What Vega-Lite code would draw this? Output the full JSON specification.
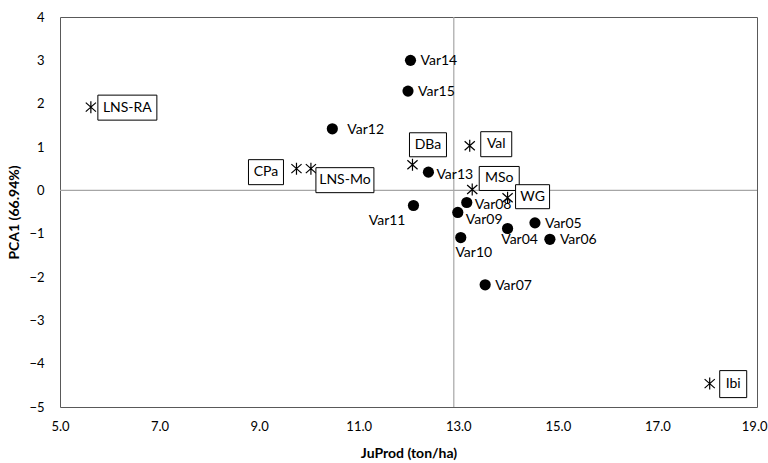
{
  "$schema": "https://vega.github.io/schema/vega-lite/v6.json",
  "autosize": "none",
  "width": 697,
  "height": 390,
  "padding": {"left": 60, "top": 17, "right": 11, "bottom": 56},
  "background": "white",
  "config": {
    "view": {"stroke": "#595959", "strokeWidth": 1},
    "font": "Lato",
    "axis": {"grid": false, "ticks": false, "domain": false, "labelFlush": false, "labelOverlap": false, "labelFont": "Lato", "labelFontSize": 13, "labelColor": "#000", "titleFont": "Lato", "titleFontSize": 14, "titleFontWeight": "bold", "titleColor": "#000"}
  },
  "datasets": {
    "pts": [
      {"name": "Var04", "type": "Variety", "x": 13.99, "y": -0.88},
      {"name": "Var05", "type": "Variety", "x": 14.54, "y": -0.75},
      {"name": "Var06", "type": "Variety", "x": 14.84, "y": -1.13},
      {"name": "Var07", "type": "Variety", "x": 13.54, "y": -2.18},
      {"name": "Var08", "type": "Variety", "x": 13.17, "y": -0.28},
      {"name": "Var09", "type": "Variety", "x": 12.99, "y": -0.51},
      {"name": "Var10", "type": "Variety", "x": 13.05, "y": -1.09},
      {"name": "Var11", "type": "Variety", "x": 12.1, "y": -0.35},
      {"name": "Var12", "type": "Variety", "x": 10.47, "y": 1.42},
      {"name": "Var13", "type": "Variety", "x": 12.4, "y": 0.42},
      {"name": "Var14", "type": "Variety", "x": 12.04, "y": 3.0},
      {"name": "Var15", "type": "Variety", "x": 11.99, "y": 2.29},
      {"name": "LNS-RA", "type": "Location", "x": 5.62, "y": 1.92},
      {"name": "CPa", "type": "Location", "x": 9.75, "y": 0.5},
      {"name": "LNS-Mo", "type": "Location", "x": 10.04, "y": 0.5},
      {"name": "DBa", "type": "Location", "x": 12.08, "y": 0.59},
      {"name": "Val", "type": "Location", "x": 13.23, "y": 1.03},
      {"name": "MSo", "type": "Location", "x": 13.28, "y": 0.02},
      {"name": "WG", "type": "Location", "x": 13.99, "y": -0.17},
      {"name": "Ibi", "type": "Location", "x": 18.05, "y": -4.46}
    ],
    "refx": [{"v": 12.91}],
    "refy": [{"v": 0}]
  },
  "encoding": {
    "x": {"field": "x", "type": "quantitative", "scale": {"domain": [5, 19], "nice": false, "zero": false}, "axis": {"values": [5, 7, 9, 11, 13, 15, 17, 19], "format": ".1f", "title": "JuProd (ton/ha)", "labelPadding": 13, "titlePadding": 13, "labelAlign": {"condition": {"test": "datum.value === 19", "value": "right"}, "value": "center"}, "labelOffset": {"condition": {"test": "datum.value === 19", "value": 10}, "value": 0}}},
    "y": {"field": "y", "type": "quantitative", "scale": {"domain": [-5, 4], "nice": false, "zero": false}, "axis": {"values": [-5, -4, -3, -2, -1, 0, 1, 2, 3, 4], "format": "d", "title": "PCA1 (66.94%)", "labelPadding": 16, "titlePadding": 7}}
  },
  "layer": [
    {"data": {"name": "refx"}, "mark": {"type": "rule", "color": "#a6a6a6", "strokeWidth": 1.2}, "encoding": {"x": {"field": "v", "type": "quantitative"}, "y": null}},
    {"data": {"name": "refy"}, "mark": {"type": "rule", "color": "#a6a6a6", "strokeWidth": 1.2}, "encoding": {"y": {"field": "v", "type": "quantitative"}, "x": null}},
    {"data": {"name": "pts"}, "transform": [{"filter": "datum.type === 'Variety'"}], "mark": {"type": "point", "shape": "circle", "filled": true, "color": "#000", "size": 125, "opacity": 1}},
    {"data": {"name": "pts"}, "transform": [{"filter": "datum.type === 'Location'"}], "mark": {"type": "point", "shape": "M0,-1L0,1M-0.85,-0.75L0.85,0.75M-0.85,0.75L0.85,-0.75", "filled": false, "stroke": "#000", "strokeWidth": 1.2, "size": 144, "opacity": 1}},
    {"data": {"name": "pts"}, "transform": [{"filter": "datum.name === 'Var14' || datum.name === 'Var15' || datum.name === 'Var05' || datum.name === 'Var06' || datum.name === 'Var07'"}], "mark": {"type": "text", "align": "left", "baseline": "middle", "dx": 10, "dy": 1, "fontSize": 14, "font": "Lato", "color": "#000"}, "encoding": {"text": {"field": "name"}}},
    {"data": {"name": "pts"}, "transform": [{"filter": "datum.name === 'Var12'"}], "mark": {"type": "text", "align": "left", "baseline": "middle", "dx": 15, "dy": 1, "fontSize": 14, "font": "Lato", "color": "#000"}, "encoding": {"text": {"field": "name"}}},
    {"data": {"name": "pts"}, "transform": [{"filter": "datum.name === 'Var13' || datum.name === 'Var08'"}], "mark": {"type": "text", "align": "left", "baseline": "middle", "dx": 8, "dy": 3, "fontSize": 14, "font": "Lato", "color": "#000"}, "encoding": {"text": {"field": "name"}}},
    {"data": {"name": "pts"}, "transform": [{"filter": "datum.name === 'Var09'"}], "mark": {"type": "text", "align": "left", "baseline": "middle", "dx": 8, "dy": 8, "fontSize": 14, "font": "Lato", "color": "#000"}, "encoding": {"text": {"field": "name"}}},
    {"data": {"name": "pts"}, "transform": [{"filter": "datum.name === 'Var11'"}], "mark": {"type": "text", "align": "right", "baseline": "middle", "dx": -8, "dy": 15, "fontSize": 14, "font": "Lato", "color": "#000"}, "encoding": {"text": {"field": "name"}}},
    {"data": {"name": "pts"}, "transform": [{"filter": "datum.name === 'Var04'"}], "mark": {"type": "text", "align": "center", "baseline": "middle", "dx": 12, "dy": 12, "fontSize": 14, "font": "Lato", "color": "#000"}, "encoding": {"text": {"field": "name"}}},
    {"data": {"name": "pts"}, "transform": [{"filter": "datum.name === 'Var10'"}], "mark": {"type": "text", "align": "center", "baseline": "middle", "dx": 13, "dy": 15, "fontSize": 14, "font": "Lato", "color": "#000"}, "encoding": {"text": {"field": "name"}}},
    {"data": {"name": "pts"}, "transform": [{"filter": "datum.name === 'LNS-RA'"}], "mark": {"type": "point", "shape": "M7,-12H66V13H7Z", "size": 4, "filled": true, "fill": "white", "stroke": "#000", "strokeWidth": 1, "opacity": 1}},
    {"data": {"name": "pts"}, "transform": [{"filter": "datum.name === 'LNS-RA'"}], "mark": {"type": "text", "align": "center", "baseline": "middle", "dx": 36.5, "dy": 0.5, "fontSize": 14, "font": "Lato", "color": "#000"}, "encoding": {"text": {"field": "name"}}},
    {"data": {"name": "pts"}, "transform": [{"filter": "datum.name === 'CPa'"}], "mark": {"type": "point", "shape": "M-48,-9H-13V16H-48Z", "size": 4, "filled": true, "fill": "white", "stroke": "#000", "strokeWidth": 1, "opacity": 1}},
    {"data": {"name": "pts"}, "transform": [{"filter": "datum.name === 'CPa'"}], "mark": {"type": "text", "align": "center", "baseline": "middle", "dx": -30.5, "dy": 3.5, "fontSize": 14, "font": "Lato", "color": "#000"}, "encoding": {"text": {"field": "name"}}},
    {"data": {"name": "pts"}, "transform": [{"filter": "datum.name === 'LNS-Mo'"}], "mark": {"type": "point", "shape": "M5,-1H63V24H5Z", "size": 4, "filled": true, "fill": "white", "stroke": "#000", "strokeWidth": 1, "opacity": 1}},
    {"data": {"name": "pts"}, "transform": [{"filter": "datum.name === 'LNS-Mo'"}], "mark": {"type": "text", "align": "center", "baseline": "middle", "dx": 34, "dy": 11.5, "fontSize": 14, "font": "Lato", "color": "#000"}, "encoding": {"text": {"field": "name"}}},
    {"data": {"name": "pts"}, "transform": [{"filter": "datum.name === 'DBa'"}], "mark": {"type": "point", "shape": "M-3,-32H34V-8H-3Z", "size": 4, "filled": true, "fill": "white", "stroke": "#000", "strokeWidth": 1, "opacity": 1}},
    {"data": {"name": "pts"}, "transform": [{"filter": "datum.name === 'DBa'"}], "mark": {"type": "text", "align": "center", "baseline": "middle", "dx": 15.5, "dy": -20, "fontSize": 14, "font": "Lato", "color": "#000"}, "encoding": {"text": {"field": "name"}}},
    {"data": {"name": "pts"}, "transform": [{"filter": "datum.name === 'Val'"}], "mark": {"type": "point", "shape": "M11,-14H42V11H11Z", "size": 4, "filled": true, "fill": "white", "stroke": "#000", "strokeWidth": 1, "opacity": 1}},
    {"data": {"name": "pts"}, "transform": [{"filter": "datum.name === 'Val'"}], "mark": {"type": "text", "align": "center", "baseline": "middle", "dx": 26.5, "dy": -1.5, "fontSize": 14, "font": "Lato", "color": "#000"}, "encoding": {"text": {"field": "name"}}},
    {"data": {"name": "pts"}, "transform": [{"filter": "datum.name === 'MSo'"}], "mark": {"type": "point", "shape": "M7,-23H47V1H7Z", "size": 4, "filled": true, "fill": "white", "stroke": "#000", "strokeWidth": 1, "opacity": 1}},
    {"data": {"name": "pts"}, "transform": [{"filter": "datum.name === 'MSo'"}], "mark": {"type": "text", "align": "center", "baseline": "middle", "dx": 27, "dy": -11, "fontSize": 14, "font": "Lato", "color": "#000"}, "encoding": {"text": {"field": "name"}}},
    {"data": {"name": "pts"}, "transform": [{"filter": "datum.name === 'WG'"}], "mark": {"type": "point", "shape": "M8,-13H42V11H8Z", "size": 4, "filled": true, "fill": "white", "stroke": "#000", "strokeWidth": 1, "opacity": 1}},
    {"data": {"name": "pts"}, "transform": [{"filter": "datum.name === 'WG'"}], "mark": {"type": "text", "align": "center", "baseline": "middle", "dx": 25, "dy": -1, "fontSize": 14, "font": "Lato", "color": "#000"}, "encoding": {"text": {"field": "name"}}},
    {"data": {"name": "pts"}, "transform": [{"filter": "datum.name === 'Ibi'"}], "mark": {"type": "point", "shape": "M10,-13H37V14H10Z", "size": 4, "filled": true, "fill": "white", "stroke": "#000", "strokeWidth": 1, "opacity": 1}},
    {"data": {"name": "pts"}, "transform": [{"filter": "datum.name === 'Ibi'"}], "mark": {"type": "text", "align": "center", "baseline": "middle", "dx": 23.5, "dy": 0.5, "fontSize": 14, "font": "Lato", "color": "#000"}, "encoding": {"text": {"field": "name"}}}
  ]
}
